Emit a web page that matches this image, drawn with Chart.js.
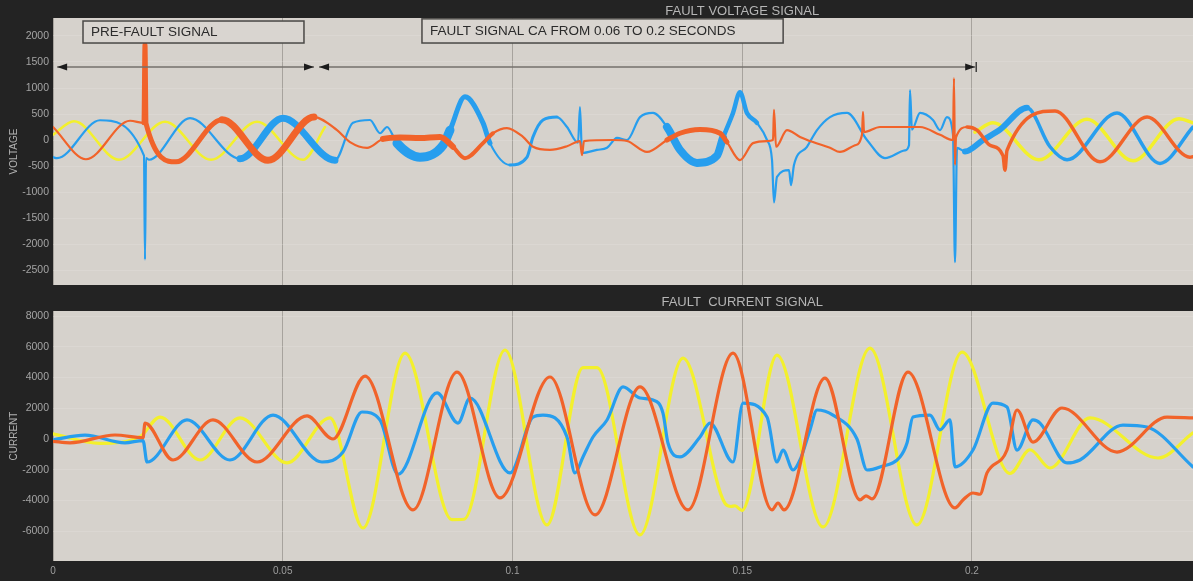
<!DOCTYPE html>
<html><head><meta charset="utf-8">
<script src="https://cdn.jsdelivr.net/npm/chart.js@4.4.1/dist/chart.umd.min.js"></script>
<style>
html,body{margin:0;padding:0;background:#232323;}
body{width:1193px;height:581px;overflow:hidden;position:relative;}
#wrapV{position:absolute;left:0;top:0;width:1193px;height:300px;z-index:2;}
#wrapI{position:absolute;left:0;top:290px;width:1193px;height:291px;z-index:1;}
canvas{display:block;}
</style></head><body>
<div id="wrapV"><canvas id="cv" width="1193" height="300"></canvas></div>
<div id="wrapI"><canvas id="ci" width="1193" height="291"></canvas></div>
<script>
// ---- tick labels ----
const timeTicks = [0, 0.05, 0.1, 0.15, 0.2];
const voltageTicks = [-2500, -2000, -1500, -1000, -500, 0, 500, 1000, 1500, 2000];
const currentTicks = [-6000, -4000, -2000, 0, 2000, 4000, 6000, 8000];

// ---- text ----
const voltageTitle = 'FAULT VOLTAGE SIGNAL';
const currentTitle = 'FAULT  CURRENT SIGNAL';
const preFaultLabel = 'PRE-FAULT SIGNAL';
const faultLabel = 'FAULT SIGNAL CA FROM 0.06 TO 0.2 SECONDS';

// ---- voltage, orange phase ----
const vOrangeT = [0, 0.00718, 0.01676, 0.01980, 0.02002, 0.02024, 0.02677, 0.03678, 0.04679, 0.05680,
  0.06181, 0.06464, 0.06834, 0.07182, 0.07552, 0.07987, 0.08422, 0.08705, 0.08966, 0.09358,
  0.09576, 0.09880, 0.10229, 0.10446, 0.10816, 0.11186, 0.11469, 0.11513, 0.11556, 0.12187,
  0.12492, 0.12927, 0.13362, 0.13645, 0.14081, 0.14516, 0.14668, 0.14951, 0.15234, 0.15539,
  0.15670, 0.15691, 0.15735, 0.15974, 0.16257, 0.16540, 0.16910, 0.17127, 0.17454, 0.17606,
  0.17628, 0.17650, 0.17998, 0.18869, 0.19304, 0.19587, 0.19608, 0.19630, 0.19652, 0.19891,
  0.20109, 0.20392, 0.20675, 0.20718, 0.20762, 0.21807, 0.22786, 0.23809, 0.24744, 0.24810];
const vOrangeV = [250, -370, 370, 330, 1830, 320, -420, 390, -390, 440,
  190, -40, -150, 20, 50, 40, 60, -130, -350, -60,
  130, 230, 60, -130, -190, -120, -20, -290, -20, 0,
  -20, -230, 0, 130, 200, 130, -40, -385, -60, -20,
  0, 580, -130, 190, 60, -40, -150, -230, -100, 100,
  540, 150, 250, 250, 100, 0, 1190, -480, 50, 250,
  190, -100, -300, -580, -200, 560, -420, 440, -330, -320];

// ---- voltage, blue phase ----
const vBlueT = [0, 0.00087, 0.01023, 0.01980, 0.02002, 0.02024, 0.02089, 0.02982, 0.04070, 0.05005,
  0.06137, 0.06529, 0.06899, 0.07117, 0.07269, 0.07486, 0.07987, 0.08488, 0.08640, 0.08966,
  0.09358, 0.09510, 0.09946, 0.10316, 0.10446, 0.10664, 0.10969, 0.11186, 0.11426, 0.11469,
  0.11513, 0.11839, 0.12057, 0.12274, 0.12492, 0.12775, 0.13058, 0.13362, 0.13645, 0.14015,
  0.14451, 0.14581, 0.14799, 0.14951, 0.15103, 0.15321, 0.15539, 0.15648, 0.15691, 0.15756,
  0.16018, 0.16061, 0.16126, 0.16409, 0.16627, 0.16910, 0.17280, 0.17715, 0.18107, 0.18542,
  0.18629, 0.18651, 0.18694, 0.18869, 0.19151, 0.19304, 0.19456, 0.19587, 0.19630, 0.19674,
  0.19848, 0.20240, 0.20610, 0.21197, 0.21698, 0.22068, 0.23156, 0.24092, 0.24810];
const vBlueV = [-330, -350, 380, -300, -2300, -350, -380, 420, -360, 420,
  -390, 330, 385, 130, 250, -60, -330, -100, 190, 830,
  330, -60, -480, -330, 60, 385, 440, 250, -50, 635,
  -250, -190, -150, 40, 0, 440, 520, 250, -190, -440,
  -300, 40, 520, 920, 520, 330, 0, -385, -1200, -710,
  -580, -870, -480, -130, 190, 440, 520, 0, -350, -200,
  -100, 960, 200, 520, 385, 190, 440, 100, -2350, -150,
  -220, 0, 200, 620, -130, -380, 520, -450, 250];

// ---- voltage, yellow phase (hidden during the fault) ----
const vYellowT = [0, 0.00457, 0.01436, 0.02437, 0.03439, 0.04440, 0.05441, 0.05920, 0.13,
  0.20065, 0.20457, 0.21458, 0.22503, 0.23504, 0.24505, 0.24810];
const vYellowV = [100, 360, -380, 350, -380, 350, -380, 250, null,
  150, 330, -380, 400, -400, 410, 330];

// ---- current, yellow phase ----
const iYellowT = [0, 0.01023, 0.01893, 0.02329, 0.03199, 0.04070, 0.05093, 0.06028, 0.06747, 0.07661,
  0.08683, 0.08945, 0.09837, 0.10751, 0.11534, 0.11839, 0.12775, 0.13711, 0.14625, 0.14755,
  0.14842, 0.14995, 0.15756, 0.16758, 0.17780, 0.18803, 0.19783, 0.20827, 0.21262, 0.21698,
  0.22568, 0.24048, 0.24810];
const iYellowV = [330, -280, 150, 1430, -1370, 1370, -1560, 1370, -5800, 5600,
  -5250, -5230, 5800, -5600, 4650, 4650, -6250, 5270, -4200, -4400,
  -4350, -4650, 5470, -5730, 5920, -5600, 5660, -2250, -700, -1890,
  1370, -1240, 400];

// ---- current, orange phase ----
const iOrangeT = [0, 0.00370, 0.01349, 0.01959, 0.02002, 0.02612, 0.03482, 0.04440, 0.05528, 0.06094,
  0.06790, 0.07835, 0.08792, 0.09728, 0.10816, 0.11796, 0.12775, 0.13820, 0.14799, 0.15648,
  0.15778, 0.15909, 0.16801, 0.17563, 0.17693, 0.17824, 0.18607, 0.19630, 0.19804, 0.20022,
  0.20174, 0.20327, 0.20762, 0.20980, 0.21328, 0.21959, 0.23156, 0.24244, 0.24810];
const iOrangeV = [-150, -250, 260, 80, 1040, -1370, 1240, -1500, 1500, 0,
  4100, -4620, 4360, -3840, 4040, -4950, 3390, -4620, 5600, -4620,
  -4170, -4620, 3970, -3970, -3700, -3900, 4360, -4490, -3970, -3520,
  -3600, -2210, -720, 1890, -200, 2020, -850, 1430, 1370];

// ---- current, blue phase ----
const iBlueT = [0, 0.00696, 0.01567, 0.01959, 0.02046, 0.02916, 0.03852, 0.04788, 0.05854, 0.06311,
  0.06725, 0.07117, 0.07508, 0.08357, 0.08814, 0.09075, 0.09946, 0.10446, 0.10664, 0.11186,
  0.11360, 0.11534, 0.11752, 0.12057, 0.12405, 0.12775, 0.13058, 0.13275, 0.13384, 0.13645,
  0.14081, 0.14298, 0.14799, 0.15016, 0.15539, 0.15756, 0.15887, 0.16105, 0.16257, 0.16475,
  0.16627, 0.16975, 0.17497, 0.17715, 0.17998, 0.18433, 0.18586, 0.18716, 0.19086, 0.19304,
  0.19521, 0.19630, 0.20022, 0.20457, 0.20762, 0.20980, 0.21328, 0.21480, 0.22068, 0.22351,
  0.23286, 0.23809, 0.24810];
const iBlueV = [-50, 250, -250, -100, -1500, 1240, -1370, 1560, -1500, -850,
  1760, 1240, -2300, 3000, 1040, 2670, -2210, 1430, 1560, 130,
  -2210, -1170, 130, 1240, 3390, 2670, 2540, 1690, -260, -1170,
  130, 1040, -1500, 2340, 1430, -1500, -720, -2020, -1370, 590,
  1890, 1560, 0, -2020, -1820, -1170, -260, 1430, 1560, 590,
  1240, -1820, -720, 2340, 2080, -720, 1240, 1040, -1560, -1370,
  910, 780, -1820];

// ---------------- drawing ----------------
const FONT = '"Liberation Sans", Arial, sans-serif';
const YELLOW = '#f3f02c', BLUE = '#279eee', ORANGE = '#f1632a';
const xMin = 0, xMax = 0.2481;

function widthFor(ranges, base) {
  return ctx => {
    const m = (ctx.p0.parsed.x + ctx.p1.parsed.x) / 2;
    for (const r of ranges) if (m >= r[0] && m < r[1]) return r[2];
    return base;
  };
}
function series(label, t, v, color, base, ranges) {
  return {
    label, data: t.map((x, i) => ({x, y: v[i]})),
    borderColor: color, backgroundColor: color, borderWidth: base,
    pointRadius: 0, fill: false, cubicInterpolationMode: 'monotone',
    borderJoinStyle: 'round', borderCapStyle: 'round', spanGaps: false,
    segment: {borderWidth: widthFor(ranges, base)}
  };
}
function axisX(showLabels, h) {
  return {
    type: 'linear', min: xMin, max: xMax,
    afterBuildTicks: s => { s.ticks = timeTicks.map(v => ({value: v})); },
    afterFit: s => { s.height = h; },
    border: {display: false},
    grid: {color: 'rgba(120,116,110,0.5)', lineWidth: 1, drawTicks: false},
    ticks: {display: showLabels, color: '#9e9e9e', font: {size: 10, family: FONT}, padding: 4,
      maxRotation: 0, autoSkip: false, callback: v => String(v)}
  };
}
function axisY(min, max, ticks, title) {
  return {
    min, max,
    afterBuildTicks: s => { s.ticks = ticks.map(v => ({value: v})); },
    afterFit: s => { s.width = 53; },
    border: {display: false},
    grid: {color: 'rgba(236,233,229,0.25)', drawTicks: false},
    ticks: {color: '#a4a4a4', font: {size: 10.5, family: FONT}, padding: 4, autoSkip: false,
      callback: v => String(v)},
    title: {display: true, text: title, color: '#b2b2b2', font: {size: 10, family: FONT}, padding: {top: 8, bottom: 0}}
  };
}
function head(ctx, xt, yt, dir) {
  ctx.beginPath();
  ctx.moveTo(xt, yt);
  ctx.lineTo(xt - dir * 10, yt - 3.5);
  ctx.lineTo(xt - dir * 10, yt + 3.5);
  ctx.closePath();
  ctx.fill();
}
const framePlugin = {
  id: 'frame',
  beforeDraw(chart, args, o) {
    const {ctx, chartArea: a} = chart;
    ctx.save();
    ctx.fillStyle = o.plotColor;
    ctx.fillRect(a.left, a.top, a.right - a.left, a.bottom - a.top);
    ctx.restore();
  },
  afterDatasetsDraw(chart, args, o) {
    const {ctx, scales: {x, y}} = chart;
    ctx.save();
    (o.boxes || []).forEach(b => {
      const x0 = x.getPixelForValue(b.x0), x1 = x.getPixelForValue(b.x1);
      const y0 = y.getPixelForValue(b.y0), y1 = y.getPixelForValue(b.y1);
      ctx.fillStyle = '#d9d5d0';
      ctx.fillRect(x0, y0, x1 - x0, y1 - y0);
      ctx.strokeStyle = '#4a4846';
      ctx.lineWidth = 1.5;
      ctx.strokeRect(x0, y0, x1 - x0, y1 - y0);
      ctx.fillStyle = '#2b2b2b';
      ctx.font = '13.5px ' + FONT;
      ctx.textAlign = 'left';
      ctx.textBaseline = 'middle';
      ctx.fillText(b.text, x0 + 8, (y0 + y1) / 2);
    });
    (o.arrows || []).forEach(r => {
      const x0 = x.getPixelForValue(r.x0), x1 = x.getPixelForValue(r.x1), yy = y.getPixelForValue(r.y);
      ctx.strokeStyle = '#75716c';
      ctx.lineWidth = 1.5;
      ctx.beginPath(); ctx.moveTo(x0, yy); ctx.lineTo(x1, yy); ctx.stroke();
      ctx.fillStyle = '#1c1c1c';
      head(ctx, x0, yy, -1);
      head(ctx, x1, yy, 1);
      if (r.bar) {
        ctx.strokeStyle = '#1c1c1c';
        ctx.lineWidth = 1.2;
        ctx.beginPath(); ctx.moveTo(x1 + 1, yy - 5); ctx.lineTo(x1 + 1, yy + 5); ctx.stroke();
      }
    });
    ctx.font = '13px ' + FONT;
    ctx.fillStyle = '#b6b6b6';
    ctx.textAlign = 'center';
    ctx.textBaseline = 'middle';
    ctx.fillText(o.title, x.getPixelForValue(o.titleAt), o.titleY);
    ctx.restore();
  }
};

const commonOpts = (padTop, xAxis, yAxis, frame) => ({
  responsive: false, animation: false, devicePixelRatio: 1,
  layout: {padding: {top: padTop, left: 0, right: 0, bottom: 0}},
  plugins: {legend: {display: false}, tooltip: {enabled: false}, frame},
  elements: {point: {radius: 0}},
  scales: {x: xAxis, y: yAxis}
});

new Chart(document.getElementById('cv'), {
  type: 'line',
  data: {datasets: [
    series('Voltage C (orange)', vOrangeT, vOrangeV, ORANGE, 2.2,
      [[0.0195, 0.037, 5], [0.037, 0.058, 7], [0.072, 0.087, 6], [0.087, 0.097, 4], [0.135, 0.146, 5], [0.198, 0.25, 3.5]]),
    series('Voltage B (blue)', vBlueT, vBlueV, BLUE, 2.2,
      [[0.037, 0.056, 7], [0.074, 0.087, 9], [0.087, 0.097, 5], [0.1, 0.11, 3], [0.134, 0.146, 8], [0.146, 0.153, 4.5], [0.2, 0.212, 6], [0.212, 0.25, 3.5]]),
    series('Voltage A (yellow)', vYellowT, vYellowV, YELLOW, 2.5, [[0.2, 0.25, 3.5]])
  ]},
  options: commonOpts(18, axisX(false, 15), axisY(-2788, 2346, voltageTicks, 'VOLTAGE'), {
    plotColor: '#d6d2cc',
    title: voltageTitle, titleAt: 0.15, titleY: 11,
    boxes: [
      {x0: 0.00653, x1: 0.05462, y0: 2288, y1: 1865, text: preFaultLabel},
      {x0: 0.0803, x1: 0.1589, y0: 2330, y1: 1865, text: faultLabel}
    ],
    arrows: [
      {x0: 0.0009, x1: 0.0568, y: 1404},
      {x0: 0.0579, x1: 0.2007, y: 1404, bar: true}
    ]
  }),
  plugins: [framePlugin]
});

new Chart(document.getElementById('ci'), {
  type: 'line',
  data: {datasets: [
    series('Current C (orange)', iOrangeT, iOrangeV, ORANGE, 3.2, []),
    series('Current B (blue)', iBlueT, iBlueV, BLUE, 3.2, []),
    series('Current A (yellow)', iYellowT, iYellowV, YELLOW, 3.2, [])
  ]},
  options: commonOpts(21, axisX(true, 20), axisY(-7950, 8340, currentTicks, 'CURRENT'), {
    plotColor: '#d6d2cc',
    title: currentTitle, titleAt: 0.15, titleY: 12
  }),
  plugins: [framePlugin]
});
</script>
</body></html>
